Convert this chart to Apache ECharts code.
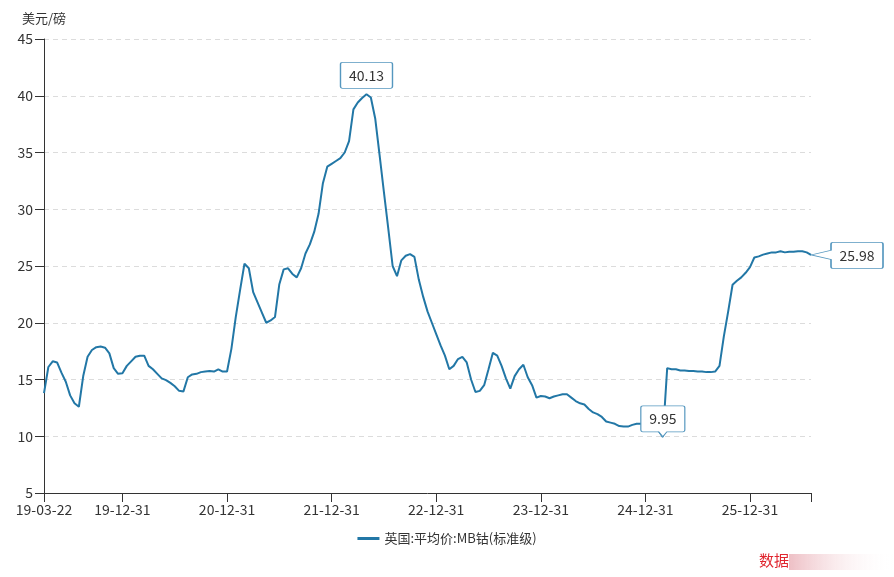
<!DOCTYPE html>
<html>
<head>
<meta charset="utf-8">
<script src="https://cdn.jsdelivr.net/npm/echarts@6/dist/echarts.min.js"></script>
<style>
html,body{margin:0;padding:0;background:#fff;}
#chart{width:894px;height:577px;}
</style>
</head>
<body>
<div id="chart"></div>
<script>
var seriesName = '英国:平均价:MB钴(标准级)';
var unitName = '美元/磅';
var yTicks = {min: 5, max: 45, interval: 5};

var dates = [
'2019-03-22','2019-04-15','2019-04-30','2019-05-15','2019-05-31','2019-06-15','2019-06-30','2019-07-15','2019-07-31','2019-08-15','2019-08-31','2019-09-15','2019-09-30','2019-10-15','2019-10-31','2019-11-15','2019-11-30','2019-12-15','2019-12-31',
'2020-01-15','2020-01-31','2020-02-15','2020-02-29','2020-03-15','2020-03-31','2020-04-15','2020-04-30','2020-05-15','2020-05-31','2020-06-15','2020-06-30','2020-07-15','2020-07-31','2020-08-15','2020-08-31','2020-09-15','2020-09-30','2020-10-15','2020-10-31','2020-11-15','2020-11-30','2020-12-15','2020-12-31',
'2021-01-15','2021-01-31','2021-02-15','2021-02-28','2021-03-15','2021-03-31','2021-04-15','2021-04-30','2021-05-15','2021-05-31','2021-06-15','2021-06-30','2021-07-15','2021-07-31','2021-08-15','2021-08-31','2021-09-15','2021-09-30','2021-10-15','2021-10-31','2021-11-15','2021-11-30','2021-12-15','2021-12-31',
'2022-01-15','2022-01-31','2022-02-15','2022-02-28','2022-03-15','2022-03-31','2022-04-15','2022-04-30','2022-05-15','2022-05-31','2022-06-15','2022-06-30','2022-07-15','2022-07-31','2022-08-15','2022-08-31','2022-09-15','2022-09-30','2022-10-15','2022-10-31','2022-11-15','2022-11-30','2022-12-15','2022-12-31',
'2023-01-15','2023-01-31','2023-02-15','2023-02-28','2023-03-15','2023-03-31','2023-04-15','2023-04-30','2023-05-15','2023-05-31','2023-06-15','2023-06-30','2023-07-15','2023-07-31','2023-08-15','2023-08-31','2023-09-15','2023-09-30','2023-10-15','2023-10-31','2023-11-15','2023-11-30','2023-12-15','2023-12-31',
'2024-01-15','2024-01-31','2024-02-15','2024-02-29','2024-03-15','2024-03-31','2024-04-15','2024-04-30','2024-05-15','2024-05-31','2024-06-15','2024-06-30','2024-07-15','2024-07-31','2024-08-15','2024-08-31','2024-09-15','2024-09-30','2024-10-15','2024-10-31','2024-11-15','2024-11-30','2024-12-15','2024-12-31',
'2025-01-15','2025-01-31','2025-02-15','2025-02-28','2025-03-15','2025-03-31','2025-04-15','2025-04-30','2025-05-15','2025-05-31','2025-06-15','2025-06-30','2025-07-15','2025-07-31','2025-08-15','2025-08-31','2025-09-15','2025-09-30','2025-10-15','2025-10-31','2025-11-15','2025-11-30','2025-12-15','2025-12-31',
'2026-01-15','2026-01-31','2026-02-15','2026-02-28','2026-03-15','2026-03-31','2026-04-15','2026-04-30','2026-05-15','2026-05-31','2026-06-15','2026-06-30','2026-07-15','2026-07-31'
];

var prices = [
13.8,16.1,16.6,16.5,15.6,14.8,13.6,12.9,12.6,15.3,17.0,17.6,17.85,17.9,17.8,17.3,16.0,15.5,15.55,
16.2,16.6,17.0,17.1,17.1,16.2,15.9,15.5,15.1,14.95,14.7,14.4,14.0,13.95,15.2,15.45,15.5,15.65,15.7,15.75,15.7,15.9,15.7,15.7,
17.7,20.5,22.9,25.2,24.8,22.7,21.8,20.9,20.0,20.2,20.5,23.4,24.7,24.8,24.3,24.0,24.8,26.1,26.9,28.0,29.6,32.3,33.75,34.0,
34.25,34.5,35.0,36.0,38.8,39.4,39.8,40.13,39.85,38.0,34.8,31.5,28.3,25.0,24.1,25.5,25.9,26.05,25.8,23.8,22.3,21.0,20.0,19.0,
18.0,17.1,15.9,16.2,16.8,17.0,16.5,15.0,13.9,14.0,14.5,15.9,17.35,17.1,16.2,15.1,14.2,15.3,15.9,16.3,15.2,14.5,13.4,13.55,
13.5,13.35,13.5,13.6,13.7,13.7,13.4,13.1,12.9,12.8,12.4,12.1,11.95,11.7,11.3,11.2,11.1,10.9,10.85,10.85,11.0,11.1,11.1,11.0,
10.95,10.9,10.5,9.95,16.0,15.9,15.9,15.8,15.8,15.75,15.75,15.7,15.7,15.65,15.65,15.7,16.2,18.8,21.0,23.35,23.7,24.0,24.4,24.9,
25.75,25.85,26.0,26.1,26.2,26.2,26.3,26.2,26.25,26.25,26.3,26.3,26.2,25.98
];

var FONT = '"Microsoft YaHei","Noto Sans CJK SC",sans-serif';
var lineColor = '#2277a6';
var boxBorder = '#5597bf';
var lastIdx = dates.length - 1;

function isMarked(i) {
  return i === 0 || dates[i].slice(5) === '12-31';
}

var pathTop = 'path://M2,0 L50,0 Q52,0 52,2 L52,24 Q52,26 50,26 L2,26 Q0,26 0,24 L0,2 Q0,0 2,0 Z';
var pathDown = 'path://M2,0 L42,0 Q44,0 44,2 L44,24 Q44,26 42,26 L26,26 L22,31 L18,26 L2,26 Q0,26 0,24 L0,2 Q0,0 2,0 Z';
var pathLeft = 'path://M22,0 L70,0 Q72,0 72,2 L72,24 Q72,26 70,26 L22,26 Q20,26 20,24 L20,17 L0,12.5 L20,8 L20,2 Q20,0 22,0 Z';

var chart = echarts.init(document.getElementById('chart'), null, {renderer: 'canvas'});
chart.setOption({
  animation: false,
  textStyle: {fontFamily: FONT},
  grid: {left: 44, right: 83, top: 39, bottom: 84, containLabel: false},
  legend: {
    data: [{name: seriesName, icon: 'rect'}],
    left: 'center',
    top: 527,
    itemWidth: 22,
    itemHeight: 3,
    itemGap: 10,
    textStyle: {color: '#333', fontSize: 13, fontFamily: FONT}
  },
  xAxis: {
    type: 'category',
    data: dates,
    boundaryGap: false,
    axisLine: {show: true, lineStyle: {color: '#333', width: 1}},
    axisTick: {
      show: true,
      length: 9,
      lineStyle: {color: '#333'},
      interval: function (i) { return isMarked(i) || i === lastIdx; }
    },
    axisLabel: {
      color: '#333',
      fontSize: 14,
      margin: 10,
      fontFamily: FONT,
      interval: function (i) { return isMarked(i); },
      formatter: function (v) { return v.slice(2); }
    },
    splitLine: {show: false}
  },
  yAxis: {
    type: 'value',
    name: unitName,
    nameLocation: 'end',
    nameGap: 14,
    nameTextStyle: {color: '#333', fontSize: 13, fontFamily: FONT, align: 'center'},
    min: yTicks.min,
    max: yTicks.max,
    interval: yTicks.interval,
    axisLine: {show: true, lineStyle: {color: '#333', width: 1}},
    axisTick: {show: true, length: 9, lineStyle: {color: '#333'}},
    axisLabel: {color: '#333', fontSize: 14, margin: 11, fontFamily: FONT},
    splitLine: {show: true, lineStyle: {color: '#dcdcdc', type: [5, 4], width: 1}}
  },
  series: [{
    name: seriesName,
    type: 'line',
    data: prices,
    symbol: 'none',
    showSymbol: false,
    smooth: false,
    lineStyle: {color: lineColor, width: 2},
    itemStyle: {color: lineColor},
    markPoint: {
      silent: true,
      animation: false,
      itemStyle: {color: '#fff', borderColor: boxBorder, borderWidth: 1},
      label: {color: '#333', fontSize: 14, fontFamily: FONT},
      data: [
        {
          type: 'max',
          symbol: pathTop,
          symbolSize: [52, 26],
          symbolOffset: [0, -19],
          label: {show: true, position: 'inside', formatter: function (p) { return p.value.toFixed(2); }}
        },
        {
          type: 'min',
          symbol: pathDown,
          symbolSize: [44, 31],
          symbolOffset: [0, -15.5],
          label: {show: true, position: 'inside', offset: [0, -2.5], formatter: function (p) { return p.value.toFixed(2); }}
        },
        {
          coord: [lastIdx, prices[lastIdx]],
          value: prices[lastIdx],
          symbol: pathLeft,
          symbolSize: [72, 26],
          symbolOffset: [36, 0.5],
          label: {show: true, position: 'inside', offset: [10, 0], formatter: function (p) { return Number(p.value).toFixed(2); }}
        }
      ]
    }
  }],
  graphic: [
    {
      type: 'rect',
      left: 789, top: 554,
      shape: {width: 105, height: 16},
      style: {
        fill: new echarts.graphic.LinearGradient(0, 0, 1, 0, [
          {offset: 0, color: 'rgba(232,170,178,0.75)'},
          {offset: 1, color: 'rgba(255,255,255,0)'}
        ])
      },
      silent: true
    },
    {
      type: 'text',
      left: 759, top: 553,
      style: {text: '数据', fill: '#e0262f', fontSize: 15, fontFamily: FONT},
      silent: true
    }
  ]
});
</script>
</body>
</html>
